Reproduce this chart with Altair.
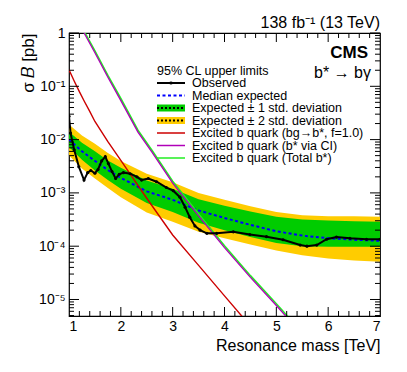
import altair as alt
import pandas as pd

# ---------------- data ----------------
obs_mass = [1.00, 1.03, 1.10, 1.19, 1.29, 1.36, 1.42, 1.50, 1.56, 1.63, 1.70, 1.76, 1.83,
            1.90, 1.97, 2.05, 2.18, 2.31, 2.40, 2.53, 2.69, 2.88, 3.01, 3.14, 3.24, 3.33,
            3.43, 3.53, 3.66, 3.85, 4.17, 4.49, 4.81, 5.13, 5.46, 5.59, 5.78, 5.97, 6.16,
            6.42, 6.74, 7.00]
obs_limit = [2.75e-2, 1.32e-2, 6.46e-3, 3.09e-3, 1.74e-3, 2.40e-3, 2.63e-3, 2.34e-3, 2.75e-3,
             3.98e-3, 4.79e-3, 3.55e-3, 2.51e-3, 1.86e-3, 2.24e-3, 2.40e-3, 2.29e-3, 2.00e-3,
             1.74e-3, 1.86e-3, 1.62e-3, 1.26e-3, 1.10e-3, 8.3e-4, 5.4e-4, 3.5e-4, 2.4e-4,
             2.0e-4, 1.74e-4, 1.74e-4, 1.86e-4, 1.66e-4, 1.51e-4, 1.32e-4, 1.05e-4, 1.00e-4,
             1.05e-4, 1.35e-4, 1.48e-4, 1.41e-4, 1.35e-4, 1.35e-4]

band_mass = [1.0, 1.25, 1.5, 1.75, 2.0, 2.5, 3.0, 3.5, 4.0, 4.5, 5.0, 5.5, 6.0, 6.5, 7.0]
exp_median = [1.00e-2, 6.03e-3, 3.98e-3, 2.69e-3, 1.91e-3, 1.07e-3, 7.41e-4, 4.68e-4,
              3.39e-4, 2.51e-4, 1.91e-4, 1.58e-4, 1.41e-4, 1.32e-4, 1.26e-4]
exp_plus1 = [1.41e-2, 8.71e-3, 6.03e-3, 4.07e-3, 2.95e-3, 1.70e-3, 1.20e-3, 7.59e-4,
             5.75e-4, 4.47e-4, 3.55e-4, 3.16e-4, 3.02e-4, 2.95e-4, 2.88e-4]
exp_minus1 = [7.24e-3, 4.17e-3, 2.63e-3, 1.74e-3, 1.20e-3, 6.46e-4, 4.37e-4, 2.75e-4,
              2.00e-4, 1.48e-4, 1.15e-4, 1.00e-4, 9.77e-5, 9.77e-5, 9.77e-5]
exp_plus2 = [1.91e-2, 1.20e-2, 8.32e-3, 5.62e-3, 3.98e-3, 2.29e-3, 1.58e-3, 1.00e-3,
             7.41e-4, 5.62e-4, 4.37e-4, 3.80e-4, 3.63e-4, 3.63e-4, 3.55e-4]
exp_minus2 = [5.01e-3, 2.88e-3, 1.86e-3, 1.23e-3, 8.32e-4, 4.27e-4, 2.88e-4, 1.86e-4,
              1.41e-4, 1.07e-4, 8.32e-5, 6.76e-5, 5.89e-5, 5.37e-5, 5.13e-5]

bg_mass = [1.0, 1.1, 1.2, 1.3, 1.4, 1.5, 1.75, 2.0, 2.5, 3.0, 3.5, 4.0, 4.5]
bg_xsec = [0.204, 0.126, 0.0794, 0.0513, 0.0339, 0.0219, 9.12e-3, 4.07e-3, 7.94e-4,
           1.62e-4, 4.37e-5, 1.17e-5, 3.16e-6]

ci_mass = [1.2, 1.31, 1.5, 1.75, 2.0, 2.33, 2.6, 3.0, 3.5, 4.0, 4.5, 5.0, 5.5]
ci_xsec = [1.5, 0.93, 0.425, 0.148, 0.054, 0.0138, 5.8e-3, 1.53e-3, 3.7e-4, 9.4e-5,
           2.6e-5, 7.7e-6, 2.2e-6]
total_xsec = [1.6, 1.0, 0.46, 0.16, 0.059, 0.015, 6.3e-3, 1.66e-3, 4.0e-4, 1.02e-4,
              2.8e-5, 8.3e-6, 2.4e-6]

x_ticks = [1, 2, 3, 4, 5, 6, 7]
x_minor = [1.2, 1.4, 1.6, 1.8, 2.2, 2.4, 2.6, 2.8, 3.2, 3.4, 3.6, 3.8, 4.2, 4.4, 4.6, 4.8,
           5.2, 5.4, 5.6, 5.8, 6.2, 6.4, 6.6, 6.8]
y_ticks = [1, 0.1, 0.01, 0.001, 0.0001, 0.00001]
y_minor = [m * d for d in [1e-6, 1e-5, 1e-4, 1e-3, 1e-2, 1e-1] for m in range(2, 10)
           if 4.9e-6 <= m * d <= 1]

legend_header = "95% CL upper limits"
legend_labels = ["Observed", "Median expected", "Expected \u00b1 1 std. deviation",
                 "Expected \u00b1 2 std. deviation",
                 "Excited b quark (bg\u2192b*, f=1.0)", "Excited b quark (b* via CI)",
                 "Excited b quark (Total b*)"]

# ---------------- styling ----------------
W, H = 311, 283
FONT = "Liberation Sans"
YELLOW = "#ffcc00"
GREEN = "#00cc00"
RED = "#cc0000"
PURPLE = "#b000b8"
LGREEN = "#22ee22"
BLUE = "#0000ff"

xs = alt.Scale(domain=[1, 7], nice=False, zero=False)
ys = alt.Scale(type="log", domain=[4.9e-6, 1], nice=False)

x_axis = alt.Axis(values=x_ticks, format="d", domain=False, ticks=False, grid=False,
                  labelFont=FONT, labelFontSize=14, labelPadding=3, labelColor="black",
                  title="Resonance mass [TeV]", titleFont=FONT, titleFontSize=16,
                  titleFontWeight="normal", titleColor="black", titleAnchor="end",
                  titleX=W, titleY=29, titleAlign="right", titleBaseline="middle")
y_label_expr = ("datum.value > 0.5 ? '1' : datum.value > 0.05 ? '10\u207b\u00b9' : "
                "datum.value > 0.005 ? '10\u207b\u00b2' : datum.value > 0.0005 ? '10\u207b\u00b3' : "
                "datum.value > 0.00005 ? '10\u207b\u2074' : '10\u207b\u2075'")
y_axis = alt.Axis(values=y_ticks, labelExpr=y_label_expr, domain=False, ticks=False,
                  grid=False, labelFont=FONT, labelFontSize=14, labelPadding=4,
                  labelColor="black", title="\u03c3 \U0001D435 [pb]", titleFont=FONT,
                  titleFontSize=17, titleFontWeight="normal", titleColor="black",
                  titleAnchor="end", titleX=-41, titleY=0, titleAlign="right",
                  titleBaseline="middle", titleAngle=270)

X = lambda f: alt.X(f, scale=xs, axis=x_axis)
Y = lambda f: alt.Y(f, scale=ys, axis=y_axis)

bands = pd.DataFrame({"m": band_mass, "med": exp_median, "p1": exp_plus1, "m1": exp_minus1,
                      "p2": exp_plus2, "m2": exp_minus2})
obs = pd.DataFrame({"m": obs_mass, "v": obs_limit})
bg = pd.DataFrame({"m": bg_mass, "v": bg_xsec})
ci = pd.DataFrame({"m": ci_mass, "v": ci_xsec})
tot = pd.DataFrame({"m": ci_mass, "v": total_xsec})

base_b = alt.Chart(bands)
yellow = base_b.mark_area(color=YELLOW, clip=True).encode(x=X("m:Q"), y=Y("p2:Q"), y2="m2:Q")
green = base_b.mark_area(color=GREEN, clip=True).encode(x=X("m:Q"), y=Y("p1:Q"), y2="m1:Q")
median = base_b.mark_line(color=BLUE, strokeWidth=2, strokeDash=[3, 2.5], clip=True).encode(
    x=X("m:Q"), y=Y("med:Q"))

red_line = alt.Chart(bg).mark_line(color=RED, strokeWidth=1.4, clip=True).encode(
    x=X("m:Q"), y=Y("v:Q"))
tot_line = alt.Chart(tot).mark_line(color=LGREEN, strokeWidth=1.6, clip=True).encode(
    x=X("m:Q"), y=Y("v:Q"))
ci_line = alt.Chart(ci).mark_line(color=PURPLE, strokeWidth=1.3, clip=True).encode(
    x=X("m:Q"), y=Y("v:Q"))
obs_line = alt.Chart(obs).mark_line(
    color="black", strokeWidth=2, clip=True,
    point=alt.OverlayMarkDef(filled=True, color="black", size=10)).encode(
    x=X("m:Q"), y=Y("v:Q"))

# tick marks drawn inside the frame
def yticks(vals, length):
    d = alt.Chart(pd.DataFrame({"t": vals}))
    left = d.mark_rule(color="black", strokeWidth=1).encode(
        y=Y("t:Q"), x=alt.value(0), x2=alt.value(length))
    right = d.mark_rule(color="black", strokeWidth=1).encode(
        y=Y("t:Q"), x=alt.value(W - length), x2=alt.value(W))
    return [left, right]

def xticks(vals, length):
    d = alt.Chart(pd.DataFrame({"t": vals}))
    bot = d.mark_rule(color="black", strokeWidth=1).encode(
        x=X("t:Q"), y=alt.value(H - length), y2=alt.value(H))
    top = d.mark_rule(color="black", strokeWidth=1).encode(
        x=X("t:Q"), y=alt.value(0), y2=alt.value(length))
    return [bot, top]

tick_layers = (yticks(y_ticks, 10) + yticks(y_minor, 5) +
               xticks(x_ticks[1:-1], 9) + xticks(x_minor, 5))

# texts
def txt(s, x, y, size=16, align="left", weight="normal", baseline="middle"):
    return alt.Chart(pd.DataFrame({"s": [s]})).mark_text(
        font=FONT, fontSize=size, align=align, baseline=baseline, fontWeight=weight,
        color="black").encode(text="s:N", x=alt.value(x), y=alt.value(y))

texts = [
    txt("138 fb\u207b\u00b9 (13 TeV)", W, -5, 16, "right", baseline="alphabetic"),
    txt("CMS", 299, 20, 17, "right", "bold"),
    txt("b* \u2192 b\u03b3", 302, 40, 16, "right"),
    txt(legend_header, 88, 37.5, 12.5),
]

# legend
LX0, LX1, LTX = 88, 116, 123
row_y = [50, 62.5, 75, 87.5, 100, 112.5, 125]
one = pd.DataFrame({"a": [0]})
leg = []
for i, col in [(2, GREEN), (3, YELLOW)]:
    leg.append(alt.Chart(one).mark_rect(color=col).encode(
        x=alt.value(LX0), x2=alt.value(LX1), y=alt.value(row_y[i] - 3.5),
        y2=alt.value(row_y[i] + 3.5)))
    leg.append(alt.Chart(one).mark_rule(color="black", strokeWidth=2, strokeDash=[2, 2]).encode(
        x=alt.value(LX0), x2=alt.value(LX1), y=alt.value(row_y[i])))
leg.append(alt.Chart(one).mark_rule(color="black", strokeWidth=2).encode(
    x=alt.value(LX0), x2=alt.value(LX1), y=alt.value(row_y[0])))
leg.append(alt.Chart(one).mark_point(color="black", filled=True, size=12).encode(
    x=alt.value((LX0 + LX1) / 2), y=alt.value(row_y[0])))
leg.append(alt.Chart(one).mark_rule(color=BLUE, strokeWidth=2, strokeDash=[3, 2.5]).encode(
    x=alt.value(LX0), x2=alt.value(LX1), y=alt.value(row_y[1])))
for i, col in [(4, RED), (5, PURPLE), (6, LGREEN)]:
    leg.append(alt.Chart(one).mark_rule(color=col, strokeWidth=1.5).encode(
        x=alt.value(LX0), x2=alt.value(LX1), y=alt.value(row_y[i])))
for lab, yy in zip(legend_labels, row_y):
    leg.append(txt(lab, LTX, yy, 12.5))

chart = alt.layer(
    yellow, green, median, red_line, tot_line, ci_line, obs_line,
    *tick_layers, *texts, *leg
).properties(
    width=W, height=H,
    autosize=alt.AutoSizeParams(type="none"),
    padding={"left": 61, "top": 25, "right": 18, "bottom": 48},
    background="white",
).configure_view(stroke="black", strokeWidth=1.2)

chart.save("out.html", embed_options={"renderer": "svg", "actions": False})
